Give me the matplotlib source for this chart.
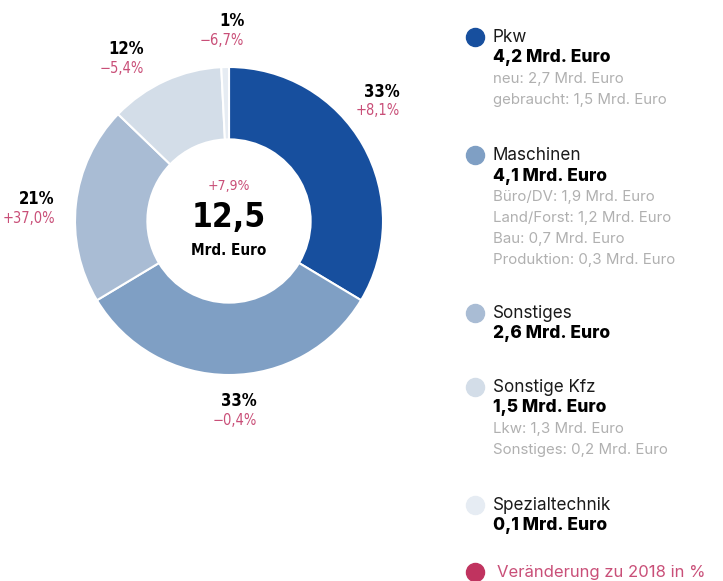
import matplotlib.pyplot as plt

# Daten
kategorien = ['Pkw', 'Maschinen', 'Sonstiges', 'Sonstige Kfz', 'Spezialtechnik']
werte = [4.2, 4.1, 2.6, 1.5, 0.1]
anteile = ['33%', '33%', '21%', '12%', '1%']
veraenderung = ['+8,1%', '\u22120,4%', '+37,0%', '\u22125,4%', '\u22126,7%']
summen_text = ['4,2 Mrd. Euro', '4,1 Mrd. Euro', '2,6 Mrd. Euro', '1,5 Mrd. Euro', '0,1 Mrd. Euro']
details = [
    ['neu: 2,7 Mrd. Euro', 'gebraucht: 1,5 Mrd. Euro'],
    ['Büro/DV: 1,9 Mrd. Euro', 'Land/Forst: 1,2 Mrd. Euro', 'Bau: 0,7 Mrd. Euro', 'Produktion: 0,3 Mrd. Euro'],
    [],
    ['Lkw: 1,3 Mrd. Euro', 'Sonstiges: 0,2 Mrd. Euro'],
    [],
]
gesamt = '12,5'
gesamt_veraenderung = '+7,9%'

farben = ['#174f9e', '#7f9fc4', '#a9bcd4', '#d3dde8', '#e6ecf3']
magenta = '#c0335f'
magenta_text = '#c94f78'
grau = '#b0b0b0'

# Positionen der Prozent-Labels: rechte Kante, Mitte zwischen beiden Zeilen (Radius = 1)
label_pos = [(1.11, 0.78), (0.18, -1.23), (-1.13, 0.08), (-0.55, 1.055), (0.10, 1.24)]

W, H = 723, 581
fig = plt.figure(figsize=(W / 100, H / 100), dpi=100)

cx, cy, r = 229, 221, 154
ax = fig.add_axes([(cx - r) / W, (H - cy - r) / H, 2 * r / W, 2 * r / H])
ax.pie(werte, colors=farben, startangle=90, counterclock=False, radius=1,
       wedgeprops=dict(width=0.47, edgecolor='white', linewidth=1.5))
ax.set_xlim(-1, 1)
ax.set_ylim(-1, 1)
ax.set_aspect('equal')
ax.axis('off')

cond = dict(family='DejaVu Sans', stretch='condensed')
for (x, y), a, v in zip(label_pos, anteile, veraenderung):
    ax.text(x, y + 0.06, a, ha='right', va='center', fontsize=12, fontweight='bold',
            clip_on=False, **cond)
    ax.text(x, y - 0.065, v, ha='right', va='center', fontsize=10.5, color=magenta_text,
            clip_on=False, **cond)

ax.text(0, 0.23, gesamt_veraenderung, ha='center', va='center', fontsize=10,
        color=magenta_text, **cond)
ax.text(0, 0.02, gesamt, ha='center', va='center', fontsize=24, fontweight='bold', **cond)
ax.text(0, -0.19, 'Mrd. Euro', ha='center', va='center', fontsize=11, fontweight='bold', **cond)

# Legende
leg = ['Inter', 'DejaVu Sans']
gruppen_y = [37, 155, 313, 387, 505]
dot_x, text_x, zeile = 475, 493, 21
for i, kat in enumerate(kategorien):
    y0 = gruppen_y[i]
    fig.add_artist(plt.Line2D([dot_x / W], [1 - y0 / H], marker='o', markersize=13,
                              color=farben[i], transform=fig.transFigure))
    fig.text(text_x / W, 1 - y0 / H, kat, ha='left', va='center', fontsize=12.3,
             family=leg, color='#1a1a1a')
    fig.text(text_x / W, 1 - (y0 + zeile) / H, summen_text[i], ha='left', va='center',
             fontsize=12.5, family=leg, fontweight='heavy', color='black')
    for j, d in enumerate(details[i]):
        fig.text(text_x / W, 1 - (y0 + zeile * (j + 2)) / H, d, ha='left', va='center',
                 fontsize=10.8, family=leg, color=grau)

fig.add_artist(plt.Line2D([dot_x / W], [1 - 572 / H], marker='o', markersize=13,
                          color=magenta, transform=fig.transFigure))
fig.text(text_x / W + 0.005, 1 - 572 / H, 'Veränderung zu 2018 in %', ha='left', va='center',
         fontsize=12, family=leg, color=magenta_text)

fig.savefig('out.png', dpi=100)
